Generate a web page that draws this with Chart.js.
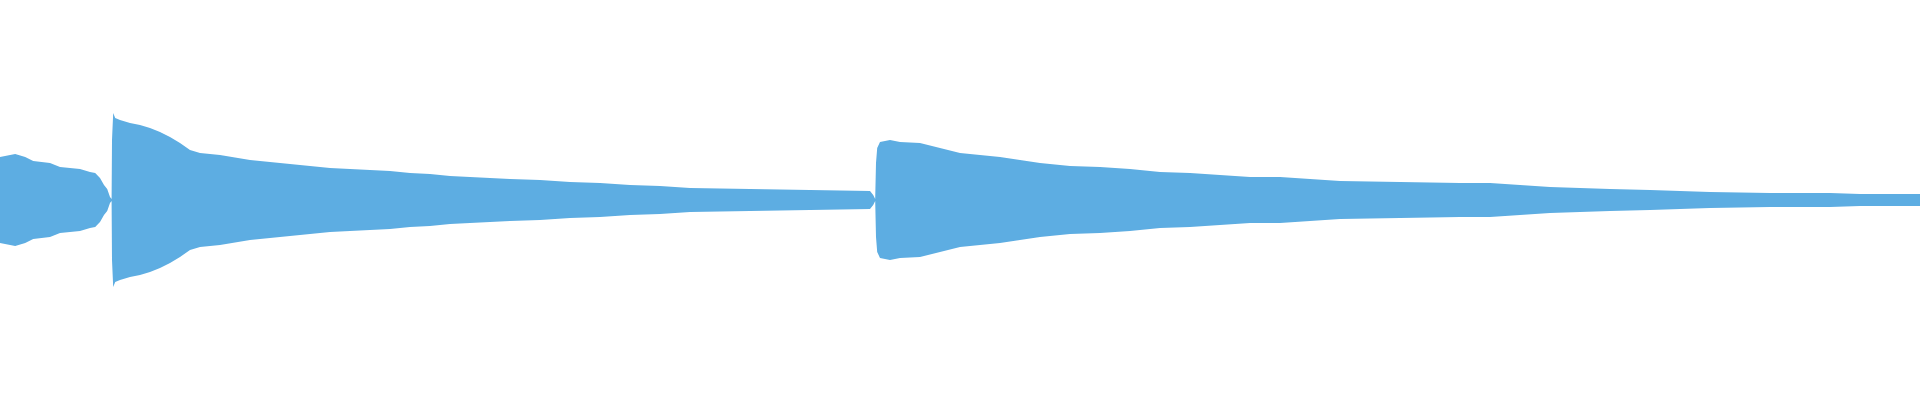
<!DOCTYPE html>
<html>
<head>
<meta charset="utf-8">
<script src="https://cdn.jsdelivr.net/npm/chart.js@4/dist/chart.umd.min.js"></script>
<style>
  html, body { margin: 0; padding: 0; width: 1920px; height: 400px; background: #ffffff; overflow: hidden; }
  #wrap { position: absolute; left: 0; top: 0; width: 1920px; height: 400px; }
  #wave { display: block; width: 1920px; height: 400px; }
</style>
</head>
<body>
<div id="wrap"><canvas id="wave" width="1920" height="400"></canvas></div>
<script>
// time in ms, peak amplitude (0..1)
const times = [0, 38, 63, 83, 125, 150, 200, 225, 238, 250, 260, 268, 275, 279,
  280, 283, 288, 300, 325, 350, 375, 400, 425, 450, 475, 500, 550, 625, 675, 725,
  775, 825, 875, 925, 975, 1025, 1075, 1125, 1175, 1225, 1275, 1350, 1425, 1500,
  1575, 1650, 1725, 1875, 2025, 2175, 2183, 2188, 2190, 2193, 2200, 2225, 2250,
  2300, 2350, 2400, 2450, 2500, 2550, 2600, 2675, 2750, 2825, 2900, 2975, 3050,
  3125, 3200, 3275, 3350, 3500, 3650, 3725, 3800, 3875, 3950, 4025, 4125, 4200,
  4275, 4425, 4575, 4650, 4800];
const peaks = [0.215, 0.23, 0.215, 0.195, 0.185, 0.165, 0.155, 0.14, 0.135, 0.11, 0.075, 0.055, 0.015, 0.005,
  0.30, 0.435, 0.41, 0.40, 0.385, 0.375, 0.36, 0.34, 0.315, 0.285, 0.25, 0.235, 0.225, 0.20, 0.19, 0.18,
  0.17, 0.16, 0.155, 0.15, 0.145, 0.135, 0.13, 0.12, 0.115, 0.11, 0.105, 0.10, 0.09, 0.085,
  0.075, 0.07, 0.06, 0.055, 0.05, 0.045, 0.025, 0.005, 0.185, 0.26, 0.29, 0.30, 0.29,
  0.285, 0.26, 0.235, 0.225, 0.215, 0.20, 0.185, 0.17, 0.165, 0.155, 0.14, 0.135, 0.125,
  0.115, 0.115, 0.105, 0.095, 0.09, 0.085, 0.085, 0.075, 0.065, 0.06, 0.055, 0.05, 0.045,
  0.04, 0.035, 0.035, 0.03, 0.03];

const waveColor = '#5DADE2';

// mirror the envelope round zero
const upper = times.map((t, i) => ({ x: t, y: peaks[i] }));
const lower = times.map((t, i) => ({ x: t, y: -peaks[i] }));

const ctx = document.getElementById('wave').getContext('2d');
const chart = new Chart(ctx, {
    type: 'line',
    data: {
        datasets: [{
            data: upper,
            borderWidth: 0,
            borderColor: waveColor,
            backgroundColor: waveColor,
            pointRadius: 0,
            tension: 0,
            fill: '+1'
        }, {
            data: lower,
            borderWidth: 0,
            borderColor: waveColor,
            backgroundColor: waveColor,
            pointRadius: 0,
            tension: 0,
            fill: false
        }]
    },
    options: {
        responsive: false,
        animation: false,
        devicePixelRatio: 1,
        layout: { padding: 0 },
        plugins: {
            legend: { display: false },
            tooltip: { enabled: false }
        },
        scales: {
            x: { type: 'linear', min: 0, max: 4800, display: false },
            y: { min: -1, max: 1, display: false }
        }
    }
});
</script>
</body>
</html>
